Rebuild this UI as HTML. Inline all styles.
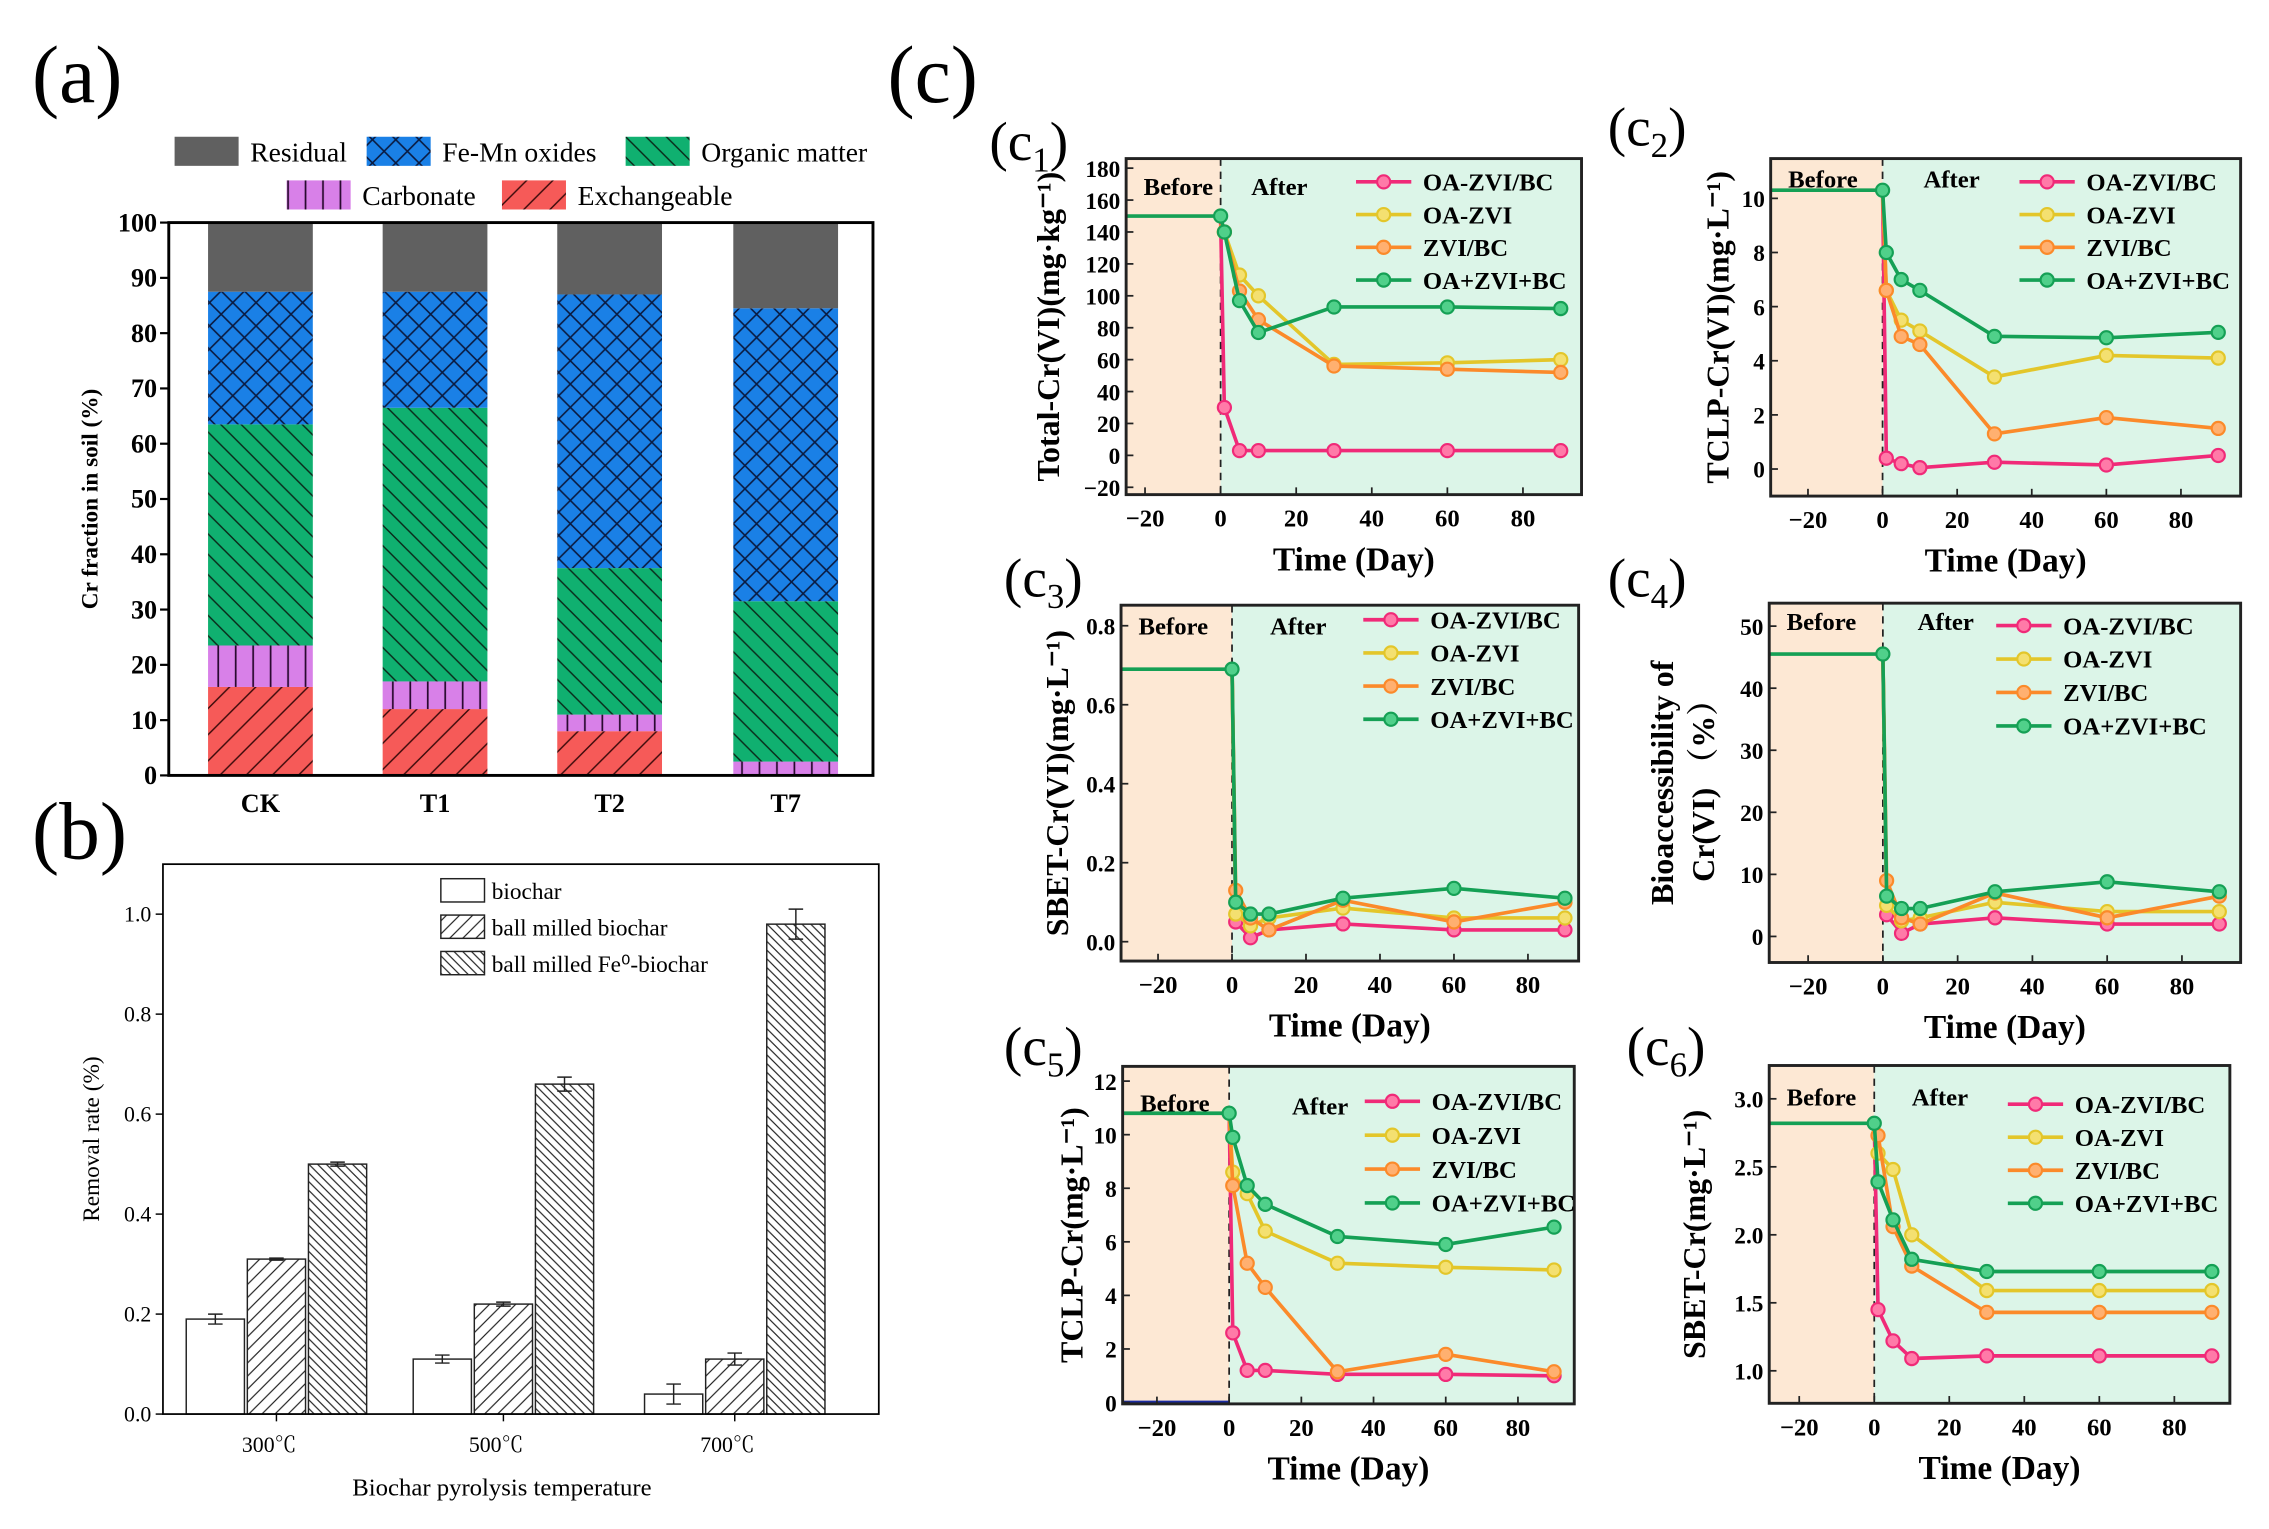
<!DOCTYPE html>
<html><head><meta charset="utf-8"><title>Cr fractionation and removal charts</title>
<style>
html,body{margin:0;padding:0;background:#fff;}
svg{display:block;font-family:"Liberation Serif","Noto Serif CJK SC",serif;}
</style></head>
<body>
<svg id="fig" width="2269" height="1529" viewBox="0 0 1559.5 1051" preserveAspectRatio="none" xmlns="http://www.w3.org/2000/svg">
<defs>
<pattern id="pCross" patternUnits="userSpaceOnUse" width="16" height="16"><rect width="16" height="16" fill="#1a80e6"/><path d="M0 0L16 16M16 0L0 16" stroke="#0a1a40" stroke-width="1.1"/></pattern>
<pattern id="pBack" patternUnits="userSpaceOnUse" width="14" height="14"><rect width="14" height="14" fill="#10b070"/><path d="M0 0L14 14M-7 7L7 21M7 -7L21 7" stroke="#0a2a1a" stroke-width="1"/></pattern>
<pattern id="pVert" patternUnits="userSpaceOnUse" width="12" height="12"><rect width="12" height="12" fill="#d880e8"/><path d="M6 0V12" stroke="#2a0a30" stroke-width="1.2"/></pattern>
<pattern id="pFwd" patternUnits="userSpaceOnUse" width="18" height="18"><rect width="18" height="18" fill="#f65a58"/><path d="M0 18L18 0M-9 9L9 -9M9 27L27 9" stroke="#3a0a0a" stroke-width="1"/></pattern>
<pattern id="pB1" patternUnits="userSpaceOnUse" width="9" height="9"><rect width="9" height="9" fill="#fff"/><path d="M0 9L9 0M-4.5 4.5L4.5 -4.5M4.5 13.5L13.5 4.5" stroke="#222" stroke-width="0.8"/></pattern>
<pattern id="pB2" patternUnits="userSpaceOnUse" width="6" height="6"><rect width="6" height="6" fill="#fff"/><path d="M0 0L6 6M-3 3L3 9M3 -3L9 3" stroke="#222" stroke-width="0.8"/></pattern>
</defs>
<g id="root"></g>
</svg>
<script>
// ---------- Panel (a) data ----------
const aCats = ["CK","T1","T2","T7"];
const aExch = [16,12,8,0];
const aCarb = [7.5,5,3,2.5];
const aOrg = [40,49.5,26.5,29];
const aFeMn = [24,21,49.5,53];
const aResid = [12.5,12.5,13,15.5];
const aTicks = [0,10,20,30,40,50,60,70,80,90,100];
// ---------- Panel (b) data ----------
const bCats = ["300\u2103","500\u2103","700\u2103"];
const bBiochar = [0.19,0.11,0.04];
const bBallMilled = [0.31,0.22,0.11];
const bFeBiochar = [0.50,0.66,0.98];
const bErrBiochar = [0.01,0.008,0.02];
const bErrBallMilled = [0.002,0.004,0.012];
const bErrFe = [0.004,0.014,0.03];
const bTicks = [0,0.2,0.4,0.6,0.8,1.0];
const bTickLabels = ["0.0","0.2","0.4","0.6","0.8","1.0"];
// ---------- Panel (c) data ----------
const days = [0,1,5,10,30,60,90];
const seriesNames = ["OA-ZVI/BC","OA-ZVI","ZVI/BC","OA+ZVI+BC"];
const xTicks = [-20,0,20,40,60,80];
const c1Before = 150;
const c1Pink = [150,30,3,3,3,3,3];
const c1Yellow = [145,140,113,100,57,58,60];
const c1Orange = [145,140,103,85,56,54,52];
const c1Green = [150,140,97,77,93,93,92];
const c1Ticks = [-20,0,20,40,60,80,100,120,140,160,180];
const c2Before = 10.3;
const c2Pink = [10.3,0.4,0.2,0.05,0.25,0.15,0.5];
const c2Yellow = [10.3,6.6,5.5,5.1,3.4,4.2,4.1];
const c2Orange = [10.3,6.6,4.9,4.6,1.3,1.9,1.5];
const c2Green = [10.3,8.0,7.0,6.6,4.9,4.85,5.05];
const c2Ticks = [0,2,4,6,8,10];
const c3Before = 0.69;
const c3Pink = [0.69,0.05,0.01,0.03,0.045,0.03,0.03];
const c3Yellow = [0.69,0.07,0.04,0.06,0.085,0.06,0.06];
const c3Orange = [0.69,0.13,0.06,0.03,0.105,0.05,0.1];
const c3Green = [0.69,0.1,0.07,0.07,0.11,0.135,0.11];
const c3Ticks = [0,0.2,0.4,0.6,0.8];
const c3TickLabels = ["0.0","0.2","0.4","0.6","0.8"];
const c4Before = 45.5;
const c4Pink = [45.5,3.5,0.5,2,3,2,2];
const c4Yellow = [45.5,5,2.5,3,5.5,4,4];
const c4Orange = [45.5,9,3,2,7,3,6.5];
const c4Green = [45.5,6.5,4.5,4.5,7.2,8.8,7.2];
const c4Ticks = [0,10,20,30,40,50];
const c5Before = 10.8;
const c5Pink = [10.8,2.6,1.2,1.2,1.05,1.05,1.0];
const c5Yellow = [10.8,8.6,7.8,6.4,5.2,5.05,4.95];
const c5Orange = [10.8,8.1,5.2,4.3,1.15,1.8,1.15];
const c5Green = [10.8,9.9,8.1,7.4,6.2,5.9,6.55];
const c5Ticks = [0,2,4,6,8,10,12];
const c6Before = 2.82;
const c6Pink = [2.82,1.45,1.22,1.09,1.11,1.11,1.11];
const c6Yellow = [2.82,2.6,2.48,2.0,1.59,1.59,1.59];
const c6Orange = [2.82,2.73,2.06,1.77,1.43,1.43,1.43];
const c6Green = [2.82,2.39,2.11,1.82,1.73,1.73,1.73];
const c6Ticks = [1.0,1.5,2.0,2.5,3.0];
const c6TickLabels = ["1.0","1.5","2.0","2.5","3.0"];

const NS = "http://www.w3.org/2000/svg";
const root = document.getElementById("root");
function mk(tag, attrs, parent){
  const e = document.createElementNS(NS, tag);
  for (const k in attrs) e.setAttribute(k, attrs[k]);
  (parent || root).appendChild(e);
  return e;
}
function txt(s, attrs, parent){ const t = mk("text", attrs, parent); t.textContent = s; return t; }

// ===== Panel (a) =====
(function(){
  const g = mk("g", {});
  
  
  let t = txt("(a)", {x:22, y:70, "font-size":56}, g);
  
  
  const L=116,R=600,T=153,B=533;
  const ys = v => B - v/100*(B-T);
  const centers = [179,299,419,540], bw = 72;
  const leg = [["Residual","#606060",120,104],["Fe-Mn oxides","url(#pCross)",252,104],["Organic matter","url(#pBack)",430,104],["Carbonate","url(#pVert)",197,134],["Exchangeable","url(#pFwd)",345,134]];
  leg.forEach(l=>{
    const r = mk("rect",{x:l[2],y:l[3]-10,width:44,height:20,fill:l[1]},g);
    
    
    const tt = txt(l[0],{x:l[2]+52,y:l[3]+7,"font-size":19},g);
    
    
  });
  const stacks = [[aExch,"url(#pFwd)","exchangeable"],[aCarb,"url(#pVert)","carbonate"],[aOrg,"url(#pBack)","organic-matter"],[aFeMn,"url(#pCross)","fe-mn-oxides"],[aResid,"#606060","residual"]];
  aCats.forEach((c,i)=>{
    let cum = 0;
    stacks.forEach(s=>{
      const v = s[0][i];
      if (v>0){
        const r = mk("rect",{x:centers[i]-bw/2,y:ys(cum+v),width:bw,height:ys(cum)-ys(cum+v),fill:s[1]},g);
        
        
      }
      cum += v;
    });
    const xl = txt(c,{x:centers[i],y:558,"font-size":18,"font-weight":"bold","text-anchor":"middle"},g);
    
    
  });
  const fr = mk("rect",{x:L,y:T,width:R-L,height:B-T,fill:"none",stroke:"#000","stroke-width":2},g);
  
  
  aTicks.forEach(v=>{
    mk("line",{x1:L-6,x2:L,y1:ys(v),y2:ys(v),stroke:"#000","stroke-width":1.5},g);
    const tl = txt(String(v),{x:L-8,y:ys(v)+6,"font-size":18,"font-weight":"bold","text-anchor":"end"},g);
    
    
  });
  const yt = txt("Cr fraction in soil (%)",{x:0,y:0,"font-size":16,"font-weight":"bold","text-anchor":"middle",transform:"translate(67,343) rotate(-90)"},g);
  
  
})();

// ===== Panel (b) =====
(function(){
  const g = mk("g", {});
  
  
  let t = txt("(b)", {x:22, y:590, "font-size":56}, g);
  
  
  const L=112,R=604,T=594,B=972;
  const ys = v => B - v/1.1*(B-T);
  const centers = [190,346,505], off = 42, bw = 40;
  const series = [[bBiochar,bErrBiochar,"#fff","biochar"],[bBallMilled,bErrBallMilled,"url(#pB1)","ball-milled-biochar"],[bFeBiochar,bErrFe,"url(#pB2)","ball-milled-fe-biochar"]];
  bCats.forEach((c,i)=>{
    series.forEach((s,j)=>{
      const cx = centers[i] + (j-1)*off;
      const r = mk("rect",{x:cx-bw/2,y:ys(s[0][i]),width:bw,height:B-ys(s[0][i]),fill:s[2],stroke:"#222","stroke-width":1},g);
      
      
      const e = s[1][i];
      const eb = mk("path",{d:`M${cx} ${ys(s[0][i]+e)}V${ys(s[0][i]-e)}M${cx-5} ${ys(s[0][i]+e)}H${cx+5}M${cx-5} ${ys(s[0][i]-e)}H${cx+5}`,stroke:"#222","stroke-width":1,fill:"none"},g);
      
      
    });
    const xl = txt(c,{x:centers[i]-5,y:998,"font-size":15,"text-anchor":"middle"},g);
    
    
    mk("line",{x1:centers[i],x2:centers[i],y1:B,y2:B+5,stroke:"#000"},g);
  });
  const fr = mk("rect",{x:L,y:T,width:R-L,height:B-T,fill:"none",stroke:"#000","stroke-width":1.2},g);
  
  
  bTicks.forEach((v,i)=>{
    mk("line",{x1:L-5,x2:L,y1:ys(v),y2:ys(v),stroke:"#000"},g);
    const tl = txt(bTickLabels[i],{x:L-8,y:ys(v)+5,"font-size":15,"text-anchor":"end"},g);
    
    
  });
  const yt = txt("Removal rate (%)",{x:0,y:0,"font-size":16,"text-anchor":"middle",transform:"translate(68,783) rotate(-90)"},g);
  
  
  const xt = txt("Biochar pyrolysis temperature",{x:345,y:1028,"font-size":17,"text-anchor":"middle"},g);
  
  
  const legs = [["biochar","#fff",612],["ball milled biochar","url(#pB1)",637],["ball milled Fe\u2070-biochar","url(#pB2)",662]];
  legs.forEach(l=>{
    const r = mk("rect",{x:303,y:l[2]-8,width:30,height:16,fill:l[1],stroke:"#222","stroke-width":1},g);
    
    
    const tt = txt(l[0],{x:338,y:l[2]+6,"font-size":16},g);
    
    
  });
})();

// ===== Panel (c) =====
const cLabel = txt("(c)",{x:610,y:70,"font-size":56});



const colors = ["#f02a78","#e3c62a","#fb8a2a","#15a055"];
const fills = ["#ff7aa8","#f4e070","#ffb070","#50d08a"];

function linePanel(cfg, before, series, ticks, tickLabels){
  const g = mk("g", {});
  
  
  const {L,R,T,B,x0,x1,y0,y1} = cfg;
  const xs = v => L + (v-x0)/(x1-x0)*(R-L);
  const ys = v => B - (v-y0)/(y1-y0)*(B-T);
  const bg1 = mk("rect",{x:L,y:T,width:xs(0)-L,height:B-T,fill:"#fde8d4"},g);
  
  
  const bg2 = mk("rect",{x:xs(0),y:T,width:R-xs(0),height:B-T,fill:"#dcf5e8"},g);
  
  
  mk("line",{x1:xs(0),x2:xs(0),y1:T,y2:B,stroke:"#222","stroke-width":1.2,"stroke-dasharray":"5,4"},g);
  if (cfg.blue){ mk("line",{x1:L,x2:xs(0),y1:B-1,y2:B-1,stroke:"#1a2aa0","stroke-width":2.5},g); }
  const bl = mk("line",{x1:L,x2:xs(0),y1:ys(before),y2:ys(before),stroke:colors[3],"stroke-width":2.5},g);
  
  
  series.forEach((s,k)=>{
    const d = days.map((dd,i)=>(i?"L":"M")+xs(dd).toFixed(1)+" "+ys(s[i]).toFixed(1)).join("");
    const p = mk("path",{d:d,fill:"none",stroke:colors[k],"stroke-width":2.5,"stroke-linejoin":"round"},g);
    
    
    days.forEach((dd,i)=>{
      if (i===0 && k!==3) return;
      const c = mk("circle",{cx:xs(dd),cy:ys(s[i]),r:4.5,fill:fills[k],stroke:colors[k],"stroke-width":1.5},g);
      
      
    });
  });
  const fr = mk("rect",{x:L,y:T,width:R-L,height:B-T,fill:"none",stroke:"#222","stroke-width":2},g);
  
  
  xTicks.forEach(v=>{
    mk("line",{x1:xs(v),x2:xs(v),y1:B,y2:B-5,stroke:"#222","stroke-width":1.2},g);
    const tl = txt(v<0?"\u2212"+(-v):String(v),{x:xs(v),y:B+22,"font-size":17,"font-weight":"bold","text-anchor":"middle"},g);
    
    
  });
  ticks.forEach((v,i)=>{
    mk("line",{x1:L,x2:L+5,y1:ys(v),y2:ys(v),stroke:"#222","stroke-width":1.2},g);
    const lab = tickLabels ? tickLabels[i] : (v<0?"\u2212"+(-v):String(v));
    const tl = txt(lab,{x:L-4,y:ys(v)+6,"font-size":16,"font-weight":"bold","text-anchor":"end"},g);
    
    
  });
  const xt = txt("Time (Day)",{x:(L+R)/2,y:B+52,"font-size":23,"font-weight":"bold","text-anchor":"middle"},g);
  
  
  cfg.ytitle.forEach((yt,i)=>{
    const e = txt(yt[0],{x:0,y:0,"font-size":22,"font-weight":"bold","text-anchor":"middle",transform:`translate(${yt[1]},${(T+B)/2}) rotate(-90)`},g);
    
    
  });
  const lb = txt("(c",{x:cfg.lab[0],y:cfg.lab[1],"font-size":38},g);
  
  
  const sub = mk("tspan",{"font-size":24,dy:8},lb); sub.textContent = cfg.id.slice(1);
  const cl = mk("tspan",{"font-size":38,dy:-8},lb); cl.textContent = ")";
  const bt = txt("Before",{x:L+12,y:cfg.by,"font-size":17,"font-weight":"bold"},g);
  
  
  const at = txt("After",{x:cfg.ax,y:cfg.by+cfg.ady,"font-size":17,"font-weight":"bold"},g);
  
  
  seriesNames.forEach((n,k)=>{
    const yy = cfg.ly + k*cfg.lstep;
    mk("line",{x1:cfg.lx,x2:cfg.lx+38,y1:yy,y2:yy,stroke:colors[k],"stroke-width":2.5},g);
    mk("circle",{cx:cfg.lx+19,cy:yy,r:4.5,fill:fills[k],stroke:colors[k],"stroke-width":1.5},g);
    const le = txt(n,{x:cfg.lx+46,y:yy+6,"font-size":17,"font-weight":"bold"},g);
    
    
  });
}

linePanel({id:"c1",L:774,R:1087,T:109,B:340,x0:-25,x1:95.5,y0:-24.6,y1:186,ytitle:[["Total-Cr(VI)(mg\u00b7kg\u207b\u00b9)",728]],lab:[680,110],by:134,ady:0,ax:860,lx:932,ly:125,lstep:22.5},
  c1Before,[c1Pink,c1Yellow,c1Orange,c1Green],c1Ticks,null);
linePanel({id:"c2",L:1217,R:1540,T:109,B:341,x0:-30,x1:96,y0:-1,y1:11.47,ytitle:[["TCLP-Cr(VI)(mg\u00b7L\u207b\u00b9)",1188]],lab:[1105,100],by:129,ady:0,ax:1322,lx:1388,ly:125,lstep:22.5},
  c2Before,[c2Pink,c2Yellow,c2Orange,c2Green],c2Ticks,null);
linePanel({id:"c3",L:770.5,R:1085,T:416,B:660.6,x0:-30,x1:93.7,y0:-0.049,y1:0.852,ytitle:[["SBET-Cr(VI)(mg\u00b7L\u207b\u00b9)",734]],lab:[690,410],by:436,ady:0,ax:873,lx:937,ly:426,lstep:22.8},
  c3Before,[c3Pink,c3Yellow,c3Orange,c3Green],c3Ticks,c3TickLabels);
linePanel({id:"c4",L:1216,R:1540,T:414.6,B:661.6,x0:-30.4,x1:95.7,y0:-4.2,y1:53.7,ytitle:[["Bioaccessibility of",1150],["Cr(VI) \uff08%\uff09",1178]],lab:[1105,410],by:433,ady:0,ax:1318,lx:1372,ly:430,lstep:23},
  c4Before,[c4Pink,c4Yellow,c4Orange,c4Green],c4Ticks,null);
linePanel({id:"c5",L:771.6,R:1082,T:733,B:965,x0:-29.5,x1:95.6,y0:-0.05,y1:12.55,ytitle:[["TCLP-Cr(mg\u00b7L\u207b\u00b9)",744]],lab:[690,732],by:764,ady:2,ax:888,lx:938,ly:757,lstep:23.3,blue:true},
  c5Before,[c5Pink,c5Yellow,c5Orange,c5Green],c5Ticks,null);
linePanel({id:"c6",L:1216,R:1532.6,T:732.4,B:964.6,x0:-28,x1:94.8,y0:0.761,y1:3.245,ytitle:[["SBET-Cr(mg\u00b7L\u207b\u00b9)",1172]],lab:[1118,732],by:760,ady:0,ax:1314,lx:1380,ly:759,lstep:22.7},
  c6Before,[c6Pink,c6Yellow,c6Orange,c6Green],c6Ticks,c6TickLabels);
</script>
</body></html>
